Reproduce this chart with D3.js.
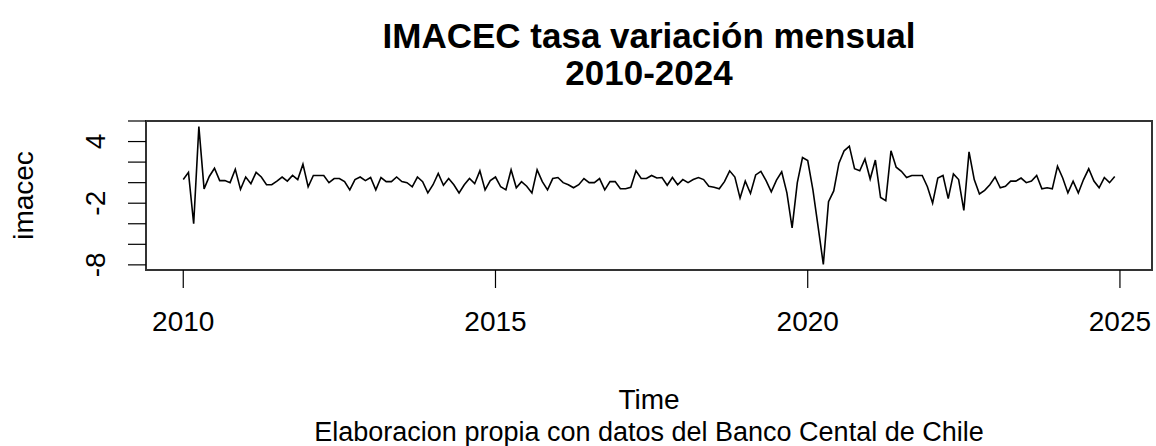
<!DOCTYPE html>
<html>
<head>
<meta charset="utf-8">
<script src="https://cdn.jsdelivr.net/npm/d3@7"></script>
<style>
  body { margin: 0; background: #fff; }
  text { font-family: "Liberation Sans", Arial, sans-serif; fill: #000; }
</style>
</head>
<body>
<script>
// IMACEC monthly change (%), Jan 2010 - Dec 2024
var startYear = 2010;
var frequency = 12;
var imacec = [
   0.3,  1.0, -4.0,  5.45, -0.6,  0.6,  1.4,  0.2,  0.2,  0.0,  1.3, -0.65,
   0.55,-0.1,  1.0,  0.55, -0.2, -0.2,  0.15, 0.55, 0.15, 0.7,  0.3,  1.8,
  -0.4,  0.7,  0.7,  0.7,   0.0,  0.4,  0.4,  0.1, -0.7,  0.3,  0.55, 0.2,
   0.5, -0.7,  0.5,  0.1,   0.1,  0.55, 0.1,  0.0, -0.4,  0.55, 0.1, -1.0,
  -0.2,  0.9, -0.25, 0.4,  -0.2, -1.0, -0.2,  0.4, -0.1,  1.15,-0.7,  0.2,
   0.55,-0.4, -0.7,  1.25, -0.5,  0.1, -0.35,-1.0,  1.25, 0.1, -0.7,  0.4,
   0.5,  0.0, -0.2, -0.5,  -0.2,  0.4,  0.0,  0.0,  0.4, -0.7,  0.1,  0.1,
  -0.6, -0.6, -0.45, 1.15,  0.4,  0.4,  0.7,  0.45, 0.5, -0.25, 0.5, -0.2,
   0.3,  0.0,  0.3,  0.5,   0.3, -0.35,-0.45,-0.6,  0.1,  1.15, 0.55,-1.5,
   0.15,-1.05, 0.75, 1.1,   0.2, -0.9,  0.25, 1.05,-1.0, -4.4,  0.0,  2.45,
   2.15,-0.7, -4.3, -7.95, -1.85,-0.8,  1.9,  3.1,  3.55, 1.35, 1.15, 2.3,
   0.35, 2.2, -1.45,-1.75,  3.1,  1.5,  1.1,  0.5,  0.7,  0.7,  0.7, -0.4,
  -2.0,  0.45, 0.7, -1.55,  0.85, 0.3, -2.7,  3.0,  0.3, -1.1, -0.75,-0.2,
   0.55,-0.5, -0.35, 0.15,  0.15, 0.45, 0.0,  0.15, 0.7, -0.6, -0.5, -0.6,
   1.6,  0.45,-1.0,  0.15, -1.0,  0.3,  1.35, 0.15,-0.5,  0.5,  0.0,  0.6
];

var xTicks = [2010, 2015, 2020, 2025];
var yTicks = [-8, -6, -4, -2, 0, 2, 4, 6];
var yTickLabels = [-8, -2, 4];

var titleLines = ["IMACEC tasa variación mensual", "2010-2024"];
var xLabel = "Time";
var yLabel = "imacec";
var caption = "Elaboracion propia con datos del Banco Cental de Chile";

var width = 1156, height = 446;
var plot = { left: 146, right: 1152, top: 121, bottom: 270 };

var series = imacec.map(function(v, i) {
  return { t: startYear + i / frequency, v: v };
});

// R style 4% range extension on x, y fixed to the drawn range
var tMin = series[0].t, tMax = series[series.length - 1].t;
var tPad = (tMax - tMin) * 0.04;

var x = d3.scaleLinear()
  .domain([tMin - tPad, tMax + tPad])
  .range([plot.left, plot.right]);

var y = d3.scaleLinear()
  .domain([-8.5, 6.0])
  .range([plot.bottom, plot.top]);

var svg = d3.select("body").append("svg")
  .attr("width", width)
  .attr("height", height);

// series line
var line = d3.line()
  .x(function(d) { return x(d.t); })
  .y(function(d) { return y(d.v); });

svg.append("path")
  .datum(series)
  .attr("d", line)
  .attr("fill", "none")
  .attr("stroke", "#000")
  .attr("stroke-width", 1.6)
  .attr("stroke-linejoin", "miter");

// box
svg.append("rect")
  .attr("x", plot.left)
  .attr("y", plot.top)
  .attr("width", plot.right - plot.left)
  .attr("height", plot.bottom - plot.top)
  .attr("fill", "none")
  .attr("stroke", "#333")
  .attr("stroke-width", 2);

var tickLen = 18;

// x axis ticks + labels
svg.selectAll(".xtick")
  .data(xTicks)
  .enter()
  .append("line")
  .attr("class", "xtick")
  .attr("x1", function(d) { return x(d); })
  .attr("x2", function(d) { return x(d); })
  .attr("y1", plot.bottom)
  .attr("y2", plot.bottom + tickLen)
  .attr("stroke", "#000")
  .attr("stroke-width", 1.2);

svg.selectAll(".xlab")
  .data(xTicks)
  .enter()
  .append("text")
  .attr("class", "xlab")
  .attr("x", function(d) { return x(d); })
  .attr("y", 331)
  .attr("text-anchor", "middle")
  .style("font-size", "28px")
  .text(function(d) { return d; });

// y axis ticks + labels (rotated like R)
svg.selectAll(".ytick")
  .data(yTicks)
  .enter()
  .append("line")
  .attr("class", "ytick")
  .attr("x1", plot.left - tickLen)
  .attr("x2", plot.left)
  .attr("y1", function(d) { return y(d); })
  .attr("y2", function(d) { return y(d); })
  .attr("stroke", "#000")
  .attr("stroke-width", 1.2);

svg.selectAll(".ylab")
  .data(yTickLabels)
  .enter()
  .append("text")
  .attr("class", "ylab")
  .attr("transform", function(d) { return "translate(105," + y(d) + ") rotate(-90)"; })
  .attr("text-anchor", "middle")
  .style("font-size", "28px")
  .text(function(d) { return d; });

// axis titles
svg.append("text")
  .attr("transform", "translate(33," + ((plot.top + plot.bottom) / 2) + ") rotate(-90)")
  .attr("text-anchor", "middle")
  .style("font-size", "28px")
  .text(yLabel);

svg.append("text")
  .attr("x", (plot.left + plot.right) / 2)
  .attr("y", 409)
  .attr("text-anchor", "middle")
  .style("font-size", "28px")
  .text(xLabel);

svg.append("text")
  .attr("x", (plot.left + plot.right) / 2)
  .attr("y", 441)
  .attr("text-anchor", "middle")
  .style("font-size", "27px")
  .text(caption);

// title
svg.selectAll(".title")
  .data(titleLines)
  .enter()
  .append("text")
  .attr("class", "title")
  .attr("x", (plot.left + plot.right) / 2)
  .attr("y", function(d, i) { return 48 + i * 37; })
  .attr("text-anchor", "middle")
  .style("font-size", "35px")
  .style("font-weight", "bold")
  .text(function(d) { return d; });
</script>
</body>
</html>
